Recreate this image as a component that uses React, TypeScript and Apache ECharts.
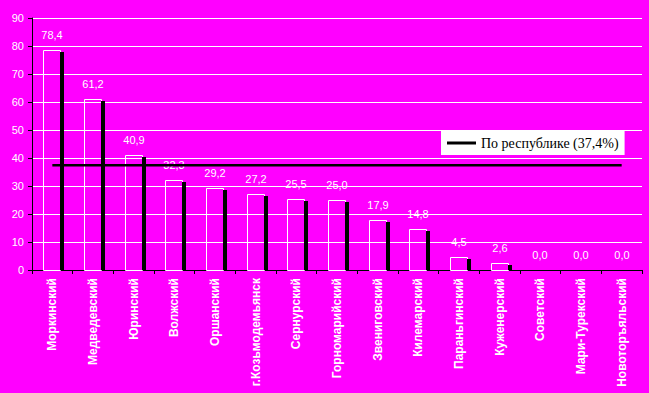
import React, { useEffect, useRef } from "react";
import * as echarts from "echarts";

const categories = [
  "Моркинский",
  "Медведевский",
  "Юринский",
  "Волжский",
  "Оршанский",
  "г.Козьмодемьянск",
  "Сернурский",
  "Горномарийский",
  "Звениговский",
  "Килемарский",
  "Параньгинский",
  "Куженерский",
  "Советский",
  "Мари-Турекский",
  "Новоторъяльский",
];
const values = [78.4, 61.2, 40.9, 32.3, 29.2, 27.2, 25.5, 25.0, 17.9, 14.8, 4.5, 2.6, 0.0, 0.0, 0.0];
const republicName = "По республике (37,4%)";
const republicValue = 37.4;
const yTicks = { min: 0, max: 90, interval: 10 };

export default function App() {
  const ref = useRef<HTMLDivElement>(null);
  useEffect(() => {
    if (!ref.current) return;
    const chart = echarts.init(ref.current, null, { renderer: "svg" });
    const fmt = (v: number) => v.toFixed(1).replace(".", ",");
    chart.setOption({
      animation: false,
      backgroundColor: "#FF00FF",
      grid: { left: 32, right: 7, top: 18, bottom: 123, containLabel: false },
      legend: {
        data: [{ name: republicName, icon: "rect" }],
        left: 441,
        top: 131,
        backgroundColor: "#FFFFFF",
        padding: [5, 6, 5, 6],
        itemWidth: 29,
        itemHeight: 3,
        itemGap: 4,
        textStyle: { color: "#000", fontFamily: "Liberation Serif", fontSize: 14 },
      },
      xAxis: {
        type: "category",
        data: categories,
        axisLine: { lineStyle: { color: "#000", width: 1 } },
        axisTick: { show: true, length: 4, lineStyle: { color: "#000" } },
        axisLabel: {
          interval: 0,
          rotate: 90,
          margin: 8,
          color: "#fff",
          fontFamily: "Liberation Sans",
          fontWeight: "bold",
          fontSize: 12,
        },
      },
      yAxis: {
        type: "value",
        min: yTicks.min,
        max: yTicks.max,
        interval: yTicks.interval,
        axisLine: { show: true, lineStyle: { color: "#000", width: 1 } },
        axisTick: { show: true, length: 4, lineStyle: { color: "#000" } },
        splitLine: { show: true, lineStyle: { color: "#fff", width: 1 } },
        axisLabel: {
          color: "#fff",
          fontFamily: "Liberation Sans",
          fontSize: 11,
          margin: 8,
        },
      },
      series: [
        {
          type: "custom",
          name: "bars",
          data: values.map((v, i) => [i, v]),
          encode: { x: 0, y: 1 },
          z: 2,
          renderItem: (params: any, api: any) => {
            const idx = api.value(0);
            const v = api.value(1);
            const top = api.coord([idx, v]);
            const base = api.coord([idx, 0]);
            const cx = Math.round(top[0]);
            const ty = Math.round(top[1]);
            const by = Math.round(base[1]);
            const children: any[] = [];
            if (v > 0) {
              children.push({
                type: "rect",
                shape: { x: cx - 8.5, y: ty + 0.5, width: 17, height: by - ty },
                style: { fill: "none", stroke: "#fff", lineWidth: 1 },
              });
              children.push({
                type: "rect",
                shape: { x: cx + 8, y: ty + 2, width: 4, height: by - ty - 2 },
                style: { fill: "#000" },
              });
            }
            children.push({
              type: "text",
              style: {
                text: fmt(v),
                x: cx,
                y: ty - 10,
                textAlign: "center",
                textVerticalAlign: "bottom",
                fill: "#fff",
                font: "11px 'Liberation Sans'",
              },
            });
            return { type: "group", children };
          },
        },
        {
          type: "line",
          name: republicName,
          data: categories.map(() => republicValue),
          symbol: "none",
          z: 5,
          itemStyle: { color: "#000" },
          lineStyle: { color: "#000", width: 2.5 },
        },
      ],
    });
    return () => chart.dispose();
  }, []);
  return (
    <div
      ref={ref}
      style={{ position: "fixed", left: 0, top: 0, width: 649, height: 393 }}
    />
  );
}
